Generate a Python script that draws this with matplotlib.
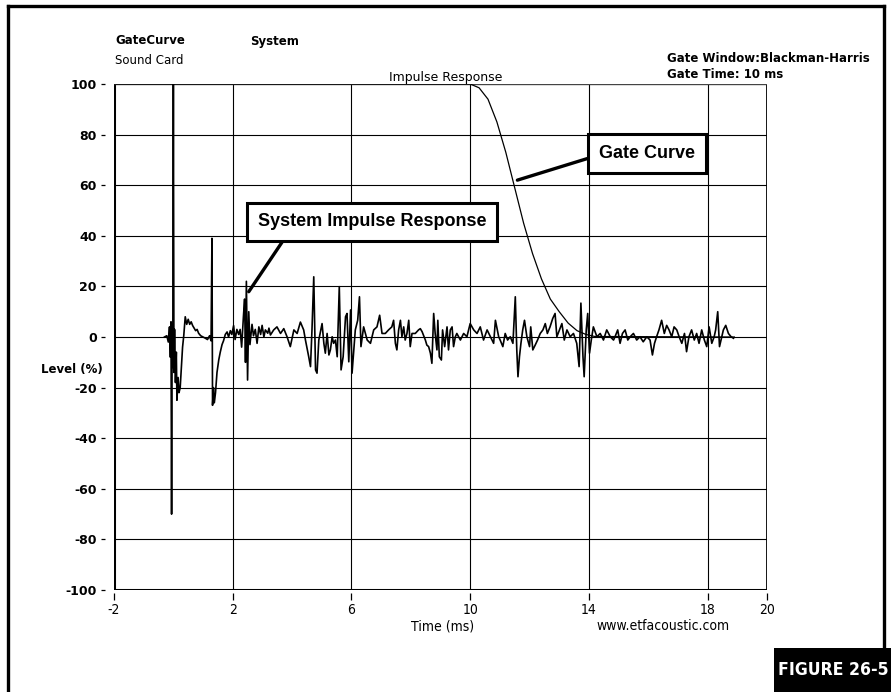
import matplotlib
matplotlib.use('Agg')
import matplotlib.pyplot as plt
from matplotlib.lines import Line2D
from matplotlib.patches import Rectangle

plt.rcParams['axes.unicode_minus'] = False

# system impulse response (time in ms, level in %)
# split in five stretches along the time axis
t_a = [-0.30, -0.22, -0.17, -0.13, -0.10, -0.08, -0.06, -0.04, -0.02, 0.00,
       0.02, 0.04, 0.07, 0.10, 0.12, 0.16, 0.19, 0.23, 0.27, 0.31,
       0.35, 0.40, 0.45, 0.50, 0.55, 0.60, 0.65, 0.70, 0.75, 0.80,
       0.85, 0.92, 1.00, 1.08, 1.15, 1.22, 1.27, 1.30, 1.32, 1.35,
       1.38, 1.42, 1.47, 1.53, 1.58, 1.64, 1.69, 1.75, 1.81, 1.86,
       1.92, 1.97, 2.03, 2.08, 2.14, 2.20, 2.25, 2.30, 2.36, 2.40,
       2.43, 2.46, 2.50, 2.54, 2.58, 2.65, 2.70, 2.76, 2.82, 2.88,
       2.94, 2.99, 3.05, 3.10, 3.18, 3.22]
v_a = [0.0, 0.5, -2.0, 4.0, -8.0, 6.0, -70.0, 5.0, -12.0, 100.0,
       -14.0, 3.0, -18.0, -6.0, -25.0, -16.0, -22.0, -20.0, -12.0, -4.0,
       0.5, 8.0, 5.0, 7.0, 5.0, 6.0, 4.5, 3.5, 2.5, 3.0,
       1.5, 0.5, 0.0, -0.5, -1.0, 0.5, -1.5, 39.0, -27.0, -20.0,
       -26.0, -22.0, -14.0, -9.0, -6.0, -3.0, -1.5, 1.0, 2.0, 0.0,
       2.5, 1.0, 4.5, -1.0, 3.0, 1.0, 3.0, -4.0, 8.0, 15.0,
       -10.0, 22.0, -17.0, 10.0, -3.0, 5.0, 0.5, 3.0, -2.5, 4.0,
       1.0, 4.6, 0.0, 2.8, 1.5, 3.5]

t_b = [3.27, 3.38, 3.49, 3.61, 3.72, 3.83, 3.94, 4.06, 4.17, 4.28,
       4.39, 4.45, 4.56, 4.62, 4.67, 4.73, 4.79, 4.84, 4.90, 5.01,
       5.07, 5.12, 5.18, 5.24, 5.29, 5.35, 5.40, 5.46, 5.52, 5.59,
       5.65, 5.72, 5.80, 5.85, 5.91, 5.97, 6.02, 6.08, 6.13, 6.21,
       6.27, 6.32, 6.41, 6.53, 6.64, 6.75, 6.86, 6.95, 7.03]
v_b = [0.8, 2.8, 4.0, 1.4, 3.3, 0.1, -3.8, 2.8, 1.4, 5.9,
       2.8, -1.2, -7.8, -11.7, 2.8, 23.8, -13.0, -14.3, -1.2, 5.3,
       -2.5, -6.4, 1.4, -7.1, -5.1, 0.1, -2.5, -1.2, -7.8, 19.9,
       -13.0, -7.8, 8.0, 9.3, -9.8, 10.7, -14.3, -5.1, 2.8, 6.6,
       15.9, -3.8, 4.0, -1.2, -2.5, 2.8, 4.0, 8.6, 1.4]

t_c = [7.14, 7.25, 7.36, 7.42, 7.48, 7.53, 7.59, 7.65, 7.70, 7.76,
       7.81, 7.87, 7.93, 7.98, 8.04, 8.15, 8.26, 8.32, 8.38, 8.49,
       8.54, 8.60, 8.66, 8.71, 8.77, 8.82, 8.88, 8.91, 8.96, 9.03,
       9.07, 9.14, 9.22, 9.27, 9.33, 9.39, 9.44, 9.50, 9.55, 9.67,
       9.78, 9.89, 10.00, 10.12, 10.23, 10.34, 10.45, 10.57, 10.68, 10.79,
       10.85, 10.96]
v_c = [1.4, 2.8, 4.0, 6.6, -2.5, -5.1, 2.8, 6.6, 0.1, 4.0,
       -1.2, 1.4, 6.6, -3.8, 1.4, 1.4, 2.8, 3.3, 2.1, -1.2,
       -3.2, -3.8, -6.4, -10.4, 9.3, 1.4, -5.1, 6.6, -7.8, -9.1,
       2.8, -3.8, 4.0, -5.1, 2.8, 4.0, -3.8, 0.1, 1.4, -1.2,
       1.4, 0.1, 5.3, 2.8, 1.4, 4.0, -1.2, 2.8, 0.1, -2.5,
       6.6, 0.1]

t_d = [11.01, 11.10, 11.18, 11.26, 11.35, 11.44, 11.52, 11.57, 11.61, 11.66,
       11.71, 11.77, 11.83, 11.91, 12.00, 12.04, 12.11, 12.19, 12.27, 12.36,
       12.45, 12.53, 12.60, 12.69, 12.78, 12.86, 12.92, 13.01, 13.09, 13.17,
       13.26, 13.37, 13.48, 13.59, 13.67, 13.73, 13.80, 13.84, 13.91, 13.96,
       14.02, 14.08, 14.15, 14.27, 14.38, 14.49, 14.60, 14.72, 14.83]
v_d = [-1.2, -3.8, 1.4, -1.2, 0.1, -2.5, 15.9, -5.1, -15.7, -7.8,
       -2.5, 2.8, 6.6, 0.1, -3.8, 4.0, -5.1, -3.2, -1.2, 1.4,
       2.8, 5.3, 1.4, 4.0, 7.3, 9.3, 0.1, 2.8, 5.3, -1.2,
       2.8, 0.1, 1.4, -2.5, -11.7, 13.4, -7.8, -15.7, 2.8, 9.3,
       -6.4, -1.2, 4.0, 0.1, 1.4, -1.2, 2.8, 0.1, -1.2]

t_e = [14.88, 14.97, 15.05, 15.13, 15.22, 15.31, 15.39, 15.50, 15.61, 15.72,
       15.83, 15.95, 16.06, 16.14, 16.21, 16.28, 16.36, 16.45, 16.54, 16.62,
       16.70, 16.79, 16.87, 16.96, 17.04, 17.13, 17.22, 17.29, 17.37, 17.46,
       17.55, 17.63, 17.71, 17.80, 17.89, 17.97, 18.05, 18.14, 18.22, 18.27,
       18.34, 18.40, 18.45, 18.53, 18.61, 18.70, 18.79, 18.87]
v_e = [0.1, 2.8, -2.5, 1.4, 2.8, -1.2, 0.1, 1.4, -1.2, 0.1,
       -1.9, 0.1, -1.2, -7.1, -2.5, 0.1, 2.8, 6.6, 1.4, 4.6,
       2.8, 0.1, 4.0, 2.8, 0.1, -2.5, 1.4, -5.8, 0.1, 2.8,
       -1.2, 1.4, -2.5, 2.8, -1.2, -3.8, 4.0, -2.5, 0.1, 2.8,
       10.0, -3.8, -1.2, 2.8, 4.6, 1.4, 0.1, -0.5]

# Blackman-Harris gate curve
gate_t = [-2.0, 10.0, 10.3, 10.6, 10.9, 11.2, 11.5, 11.8, 12.1, 12.4,
          12.7, 13.0, 13.3, 13.6, 13.9, 14.2, 18.9]
gate_v = [100, 100, 98.5, 94, 85, 73, 59, 45, 33, 23,
          15, 10, 5.5, 2.5, 1, 0.2, 0]

x_ticks = [-2, 2, 6, 10, 14, 18, 20]
y_ticks = [-100, -80, -60, -40, -20, 0, 20, 40, 60, 80, 100]

ir_time = t_a + t_b + t_c + t_d + t_e
ir_level = v_a + v_b + v_c + v_d + v_e

W, H = 891, 692
fig = plt.figure(figsize=(W / 100, H / 100), dpi=100)
fig.patch.set_facecolor('white')

# plot area in pixels: x 114..767, y 84..590
ax = fig.add_axes([114 / W, 1 - 590 / H, (767 - 114) / W, (590 - 84) / H])
ax.set_xlim(-2, 20)
ax.set_ylim(-100, 100)
ax.set_xticks(x_ticks)
ax.set_yticks(y_ticks)
ax.set_axisbelow(True)
ax.grid(True, color='black', lw=0.8)

for s in ax.spines.values():
    s.set_color('none')
# ticks sit a little away from the frame, like the scan
ax.spines['left'].set_position(('outward', 6.5))
ax.spines['bottom'].set_position(('outward', 2.5))

ax.tick_params(axis='y', direction='out', length=3, width=0.9, pad=3,
               labelsize=9)
ax.tick_params(axis='x', direction='out', length=5, width=0.9, pad=2,
               labelsize=10)
for lab in ax.get_yticklabels():
    lab.set_fontweight('bold')
    lab.set_family('DejaVu Sans')
for lab in ax.get_xticklabels():
    lab.set_family('DejaVu Sans')
    lab.set_fontstretch('condensed')

# frame of the plot: heavy left/bottom/right, thin top
ax.axvline(-2, color='black', lw=2.2, zorder=3)
ax.axvline(20, color='black', lw=2.0, zorder=3)
ax.axhline(-100, color='black', lw=2.2, zorder=3)
ax.axhline(100, color='#444444', lw=0.9, zorder=3)

ax.plot(gate_t, gate_v, color='black', lw=0.9, zorder=4)
ax.plot(ir_time, ir_level, color='black', lw=1.2, zorder=5)

# callouts
box = dict(boxstyle='square,pad=0.6', fc='white', ec='black', lw=2.2)
ax.annotate('System Impulse Response', xy=(2.54, 17.9), xytext=(6.70, 45.5),
            ha='center', va='center', fontsize=13, fontweight='bold',
            family=['Liberation Sans', 'DejaVu Sans'], bbox=box, zorder=6,
            arrowprops=dict(arrowstyle='-', lw=2.4, color='black',
                            relpos=(0.14, 0.0), shrinkA=0, shrinkB=0))
ax.annotate('Gate Curve', xy=(11.59, 62), xytext=(15.96, 72.5),
            ha='center', va='center', fontsize=13, fontweight='bold',
            family=['Liberation Sans', 'DejaVu Sans'], bbox=box, zorder=6,
            arrowprops=dict(arrowstyle='-', lw=2.4, color='black',
                            relpos=(0.0, 0.42), shrinkA=0, shrinkB=0))

ax.text(0.508, 1.0, 'Impulse Response', transform=ax.transAxes,
        ha='center', va='bottom', fontsize=9, family='DejaVu Sans')
ax.text(-0.065, -13, 'Level (%)', transform=ax.get_yaxis_transform(),
        ha='center', va='center', fontsize=8.5, fontweight='bold')

hdr = dict(fontsize=8.5, family='DejaVu Sans', va='center', ha='left')
fig.text(115 / W, 1 - 41 / H, 'GateCurve', fontweight='bold', **hdr)
fig.text(115 / W, 1 - 60 / H, 'Sound Card', **hdr)
fig.text(250 / W, 1 - 41 / H, 'System', fontweight='bold', **hdr)
fig.text(667 / W, 1 - 59 / H, 'Gate Window:Blackman-Harris', fontweight='bold', **hdr)
fig.text(667 / W, 1 - 75 / H, 'Gate Time: 10 ms', fontweight='bold', **hdr)

fig.text(443 / W, 1 - 626 / H, 'Time (ms)', ha='center', va='center',
         fontsize=10, family='DejaVu Sans', fontstretch='condensed')
fig.text(663 / W, 1 - 626 / H, 'www.etfacoustic.com', ha='center', va='center',
         fontsize=10, family='DejaVu Sans', fontstretch='condensed')

# outer page frame
fig.add_artist(Line2D([8 / W, 8 / W], [0, 1 - 6 / H], color='black', lw=2.4))
fig.add_artist(Line2D([8 / W, 884 / W], [1 - 6 / H, 1 - 6 / H], color='black', lw=2.4))
fig.add_artist(Line2D([884 / W, 884 / W], [0, 1 - 6 / H], color='black', lw=2.4))

# figure tag, white on black
fig.add_artist(Rectangle((774 / W, 0), 1 - 774 / W, 44 / H, transform=fig.transFigure,
                         fc='black', ec='none', zorder=5))
fig.text(833 / W, 22 / H, 'FIGURE 26-5', color='white', ha='center', va='center',
         fontsize=12.6, fontweight='bold', family='DejaVu Sans',
         fontstretch='condensed', zorder=6)

fig.savefig('out.png', dpi=100)
